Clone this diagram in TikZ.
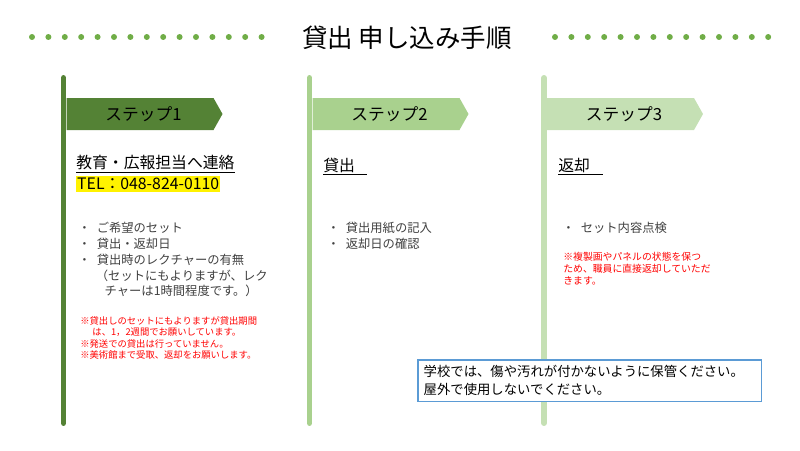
\documentclass[tikz,border=0pt]{standalone}
\usepackage{fontspec}
\setmainfont{Noto Sans CJK JP}
\usepackage{xcolor}
\usepackage{tikz}
\usetikzlibrary{calc}

\definecolor{stepA}{HTML}{548235}
\definecolor{stepB}{HTML}{A9D18E}
\definecolor{stepC}{HTML}{C5E0B4}
\definecolor{dotgreen}{HTML}{70AD47}
\definecolor{notered}{HTML}{FF0000}
\definecolor{bodygray}{HTML}{404040}
\definecolor{boxblue}{HTML}{5B9BD5}

\newcommand{\bul}{\makebox[10.5pt][l]{・}}

\begin{document}
\begin{tikzpicture}[x=0.02cm,y=-0.02cm,
  pole/.style={line width=3.4pt,line cap=round},
  flaglabel/.style={font=\fontsize{9.5}{11}\selectfont},
  heading/.style={anchor=west,inner sep=0pt,inner ysep=1.2pt,align=left,
    font=\fontsize{9}{11}\selectfont},
  itemlist/.style={anchor=north west,inner sep=0pt,align=left,text=bodygray,
    font=\fontsize{7}{9}\selectfont},
  rednote/.style={anchor=north west,inner sep=0pt,align=left,text=notered,
    font=\fontsize{5.3}{6.5}\selectfont},
  notebox/.style={anchor=north west,draw=boxblue,line width=0.85pt,fill=white,
    inner xsep=3.4pt,inner ysep=2pt,text width=188.8pt,minimum height=23.8pt,
    align=left,font=\fontsize{7.6}{10.2}\selectfont}]

  \useasboundingbox (0,0) rectangle (800,450);

  \node[font=\fontsize{14.5}{17}\selectfont] (title) at (407,38) {貸出 申し込み手順};
  \foreach \i in {0,...,14} {%
    \fill[dotgreen] (32 + 16.4*\i,37) circle (1.7pt);
  }
  \foreach \i in {0,...,13} {%
    \fill[dotgreen] (555 + 16.4*\i,37) circle (1.7pt);
  }

  \foreach \x/\c/\n in {63.5/stepA/1,309.5/stepB/2,544/stepC/3} {%
    \draw[pole,\c] (\x,78) -- (\x,423);
    \fill[\c] (\x + 3,98) -- ++(147,0) -- ++(9,16) -- ++(-9,16) -- ++(-147,0) -- cycle;
    \node[flaglabel] (step\n) at (\x + 80,114) {ステップ\n};
  }

  \node[heading] (contact) at (76,163) {教育・広報担当へ連絡};
  \draw (contact.south west) -- (contact.south east);
  \node[heading,fill=yellow,inner xsep=0.5pt] (tel) at (76,184) {TEL：048-824-0110};
  \node[itemlist] (needs) at (78,222) {\bul ご希望のセット\\ \bul 貸出・返却日\\
    \bul 貸出時のレクチャーの有無\\ \hspace{10pt}（セットにもよりますが、レク\\
    \hspace{15pt}チャーは1時間程度です。）};
  \node[rednote] (terms) at (80,316) {※貸出しのセットにもよりますが貸出期間\\
    \hspace{1.3em}は、1，2週間でお願いしています。\\ ※発送での貸出は行っていません。\\
    ※美術館まで受取、返却をお願いします。};

  \node[heading,text width=24.4pt] (lend) at (323,165) {貸出};
  \draw (lend.south west) -- (lend.south east);
  \node[itemlist] (form) at (327,222) {\bul 貸出用紙の記入\\ \bul 返却日の確認};

  \node[heading,text width=25pt] (back) at (558,165) {返却};
  \draw (back.south west) -- (back.south east);
  \node[itemlist] (check) at (562,222) {\bul セット内容点検};
  \node[rednote,font=\fontsize{5.6}{6.8}\selectfont] (care) at (563,252)
    {※複製画やパネルの状態を保つ\\ ため、職員に直接返却していただ\\ きます。};

  \node[notebox] (note) at (417,359)
    {学校では、傷や汚れが付かないように保管ください。\\屋外で使用しないでください。};
\end{tikzpicture}
\end{document}
